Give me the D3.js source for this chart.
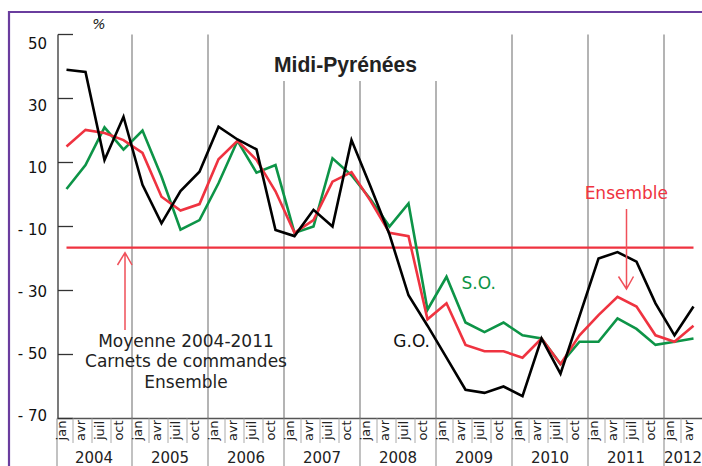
<!DOCTYPE html>
<html><head><meta charset="utf-8">
<script src="https://cdn.jsdelivr.net/npm/d3@7"></script>
<style>
html,body{margin:0;padding:0;background:#fff;overflow:hidden}
svg{display:block;font-family:"DejaVu Sans",Verdana,sans-serif}
</style></head>
<body><svg id="c" width="702" height="466"></svg>
<script>
const years = ["2004","2005","2006","2007","2008","2009","2010","2011","2012"];
const quarters = ["jan","avr","juil","oct"];
const lastYearQuarters = 2;
// G.O. (black)
const goValues = [39, 38.3, 10.8, 24.3,  3, -9, 1.1, 7.1,  21.2, 17.2, 14.1, -11.1,  -13, -4.8, -10, 17,
                  2.5, -12.5, -31.5, -41,  -51, -61, -62, -60,  -63, -45, -56, -38,  -20, -18, -21, -34,  -44, -35];
// Ensemble (red)
const ensembleValues = [15, 20.2, 19.2, 17,  13, -0.7, -5, -3,  11, 16.8, 10.8, 1,  -12, -8, 4, 7,
                  -2, -12, -13, -39,  -34, -47, -49, -49,  -51, -45, -53, -44,  -37.7, -32, -35, -44,  -46, -41];
// S.O. (green)
const soValues = [1.7, 9.2, 21, 14,  20, 5.6, -11, -8,  3.5, 16.8, 6.8, 9.2,  -12, -10, 11.3, 6,
                  -1.5, -10, -2.8, -36,  -25.7, -40, -43, -40,  -44, -45, -53, -46,  -46, -38.7, -42, -47,  -46, -45];
const meanValue = -16.6;
const yTicks = [50, 30, 10, -10, -30, -50, -70];

const RED = "#ef3340", GREEN = "#0d9447", BLACK = "#000";

const periods = [];
years.forEach((yr, yi) => {
  const qs = yi === years.length - 1 ? quarters.slice(0, lastYearQuarters) : quarters;
  qs.forEach(q => periods.push({id: yr + "-" + q, year: yr, q}));
});

const svg = d3.select("#c");
const x = d3.scaleBand().domain(periods.map(p => p.id)).range([57, 703]).padding(0);
const y = d3.scaleLinear().domain([-70, 50]).range([418.5, 34.5]);
const yLab = d3.scaleLinear().domain([-70, 50]).range([416, 44]);
const cx = id => x(id) + x.bandwidth() / 2;

// purple frame
svg.append("path").attr("d", "M9,466 V12 H702").attr("fill", "none")
   .attr("stroke", "#6a3d9e").attr("stroke-width", 2.2);

// year gridlines in plot
const yearStarts = years.slice(1).map(yr => yr + "-jan");
const titleGaps = ["2007", "2008", "2009"];
svg.append("g").selectAll("line").data(yearStarts).join("line")
  .attr("x1", d => x(d) - 1).attr("x2", d => x(d) - 1)
  .attr("y1", d => titleGaps.includes(d.slice(0, 4)) ? 81 : y(50))
  .attr("y2", y(-70))
  .attr("stroke", "#8c8c8c").attr("stroke-width", 1.3);

// axis
svg.append("line").attr("x1", 58).attr("x2", 58).attr("y1", y(50)).attr("y2", y(-70))
  .attr("stroke", "#333").attr("stroke-width", 1.3);
svg.append("line").attr("x1", 57).attr("x2", 703).attr("y1", y(-70)).attr("y2", y(-70))
  .attr("stroke", "#555").attr("stroke-width", 1.3);
svg.append("g").selectAll("line").data(yTicks).join("line")
  .attr("x1", 58).attr("x2", 73).attr("y1", d => y(d)).attr("y2", d => y(d))
  .attr("stroke", "#333").attr("stroke-width", 1.3);
svg.append("g").selectAll("text").data(yTicks).join("text")
  .attr("x", 47).attr("y", d => yLab(d)).attr("dy", "0.36em")
  .attr("text-anchor", "end").attr("font-size", 15).attr("fill", "#111")
  .text(d => d < 0 ? "- " + Math.abs(d) : d);
svg.append("text").attr("x", 99).attr("y", 29).attr("text-anchor", "middle")
  .attr("font-size", 14).attr("font-style", "italic").attr("fill", "#222").text("%");

// bottom label grid
svg.append("g").selectAll("line").data(periods.filter(p => p.q !== "jan")).join("line")
  .attr("x1", d => x(d.id) - 3).attr("x2", d => x(d.id) - 3)
  .attr("y1", y(-70)).attr("y2", 443)
  .attr("stroke", "#aaa").attr("stroke-width", 1);
svg.append("g").selectAll("line").data(periods.filter(p => p.q === "jan")).join("line")
  .attr("x1", (d, i) => i === 0 ? 57 : x(d.id) - 1).attr("x2", (d, i) => i === 0 ? 57 : x(d.id) - 1)
  .attr("y1", y(-70)).attr("y2", 466)
  .attr("stroke", "#999").attr("stroke-width", 1.2);
svg.append("g").selectAll("text").data(periods).join("text")
  .attr("transform", d => `translate(${x(d.id) + 4.5},430.5) rotate(-90)`)
  .attr("text-anchor", "middle").attr("dy", "0.36em")
  .attr("font-size", 13).attr("fill", "#222").text(d => d.q);
svg.append("g").selectAll("text").data(years).join("text")
  .attr("x", yr => {
    const ps = periods.filter(p => p.year === yr);
    return (x(ps[0].id) + x(ps[ps.length - 1].id) + x.bandwidth()) / 2 - 1;
  })
  .attr("y", 462.5).attr("text-anchor", "middle").attr("font-size", 15).attr("fill", "#222")
  .text(d => d);

// title
svg.append("text").attr("x", 274).attr("y", 71.5).attr("font-family", "'Liberation Sans',Arial,sans-serif")
  .attr("font-weight", "bold").attr("font-size", 22).attr("fill", "#222")
  .attr("textLength", 143).attr("lengthAdjust", "spacingAndGlyphs").text("Midi-Pyrénées");

// mean line
svg.append("line").attr("x1", cx(periods[0].id)).attr("x2", cx(periods[periods.length - 1].id))
  .attr("y1", y(meanValue)).attr("y2", y(meanValue))
  .attr("stroke", RED).attr("stroke-width", 2.4);

// series
const line = d3.line().x((d, i) => cx(periods[i].id)).y(d => y(d));
[[soValues, GREEN], [ensembleValues, RED], [goValues, BLACK]].forEach(([vals, col]) => {
  svg.append("path").datum(vals).attr("d", line).attr("fill", "none")
    .attr("stroke", col).attr("stroke-width", 2.6).attr("stroke-linejoin", "miter");
});

// annotations
const arrowCol = "#f0505a";
const aX = 125;
svg.append("path").attr("d", `M${aX},330 V${y(meanValue) + 5} M${aX - 7.5},265 L${aX},${y(meanValue) + 5} L${aX + 7},265`)
  .attr("fill", "none").attr("stroke", arrowCol).attr("stroke-width", 1.5);
const noteLines = ["Moyenne 2004-2011", "Carnets de commandes", "Ensemble"];
svg.append("g").selectAll("text").data(noteLines).join("text")
  .attr("x", 186).attr("y", (d, i) => 346.5 + i * 20.8).attr("text-anchor", "middle")
  .attr("font-size", 17).attr("fill", "#222").text(d => d);

svg.append("text").attr("x", 668).attr("y", 199).attr("text-anchor", "end")
  .attr("font-size", 17).attr("fill", RED).text("Ensemble");
const eX = 626.5;
svg.append("path").attr("d", `M${eX},209 V289 M${eX - 8},276.5 L${eX},289 L${eX + 7},276.5`)
  .attr("fill", "none").attr("stroke", arrowCol).attr("stroke-width", 1.5);

svg.append("text").attr("x", 461.5).attr("y", 289).attr("font-size", 17).attr("fill", GREEN).text("S.O.");
svg.append("text").attr("x", 430).attr("y", 346.5).attr("text-anchor", "end")
  .attr("font-size", 17).attr("fill", "#111").text("G.O.");
</script></body></html>
